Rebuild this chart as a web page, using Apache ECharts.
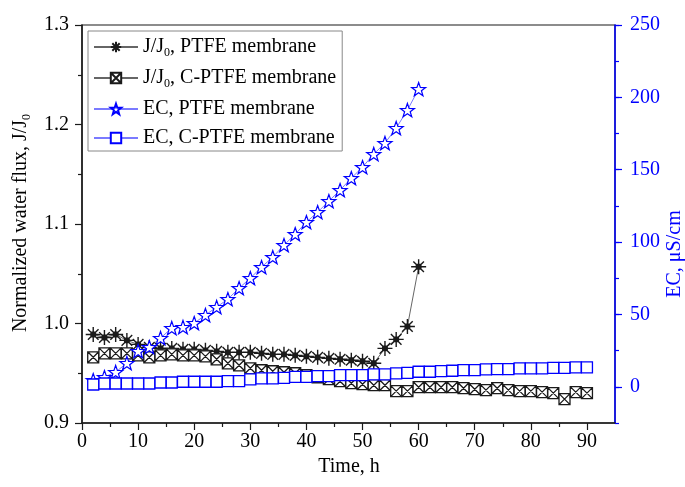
<!DOCTYPE html>
<html><head><meta charset="utf-8">
<script src="https://cdn.jsdelivr.net/npm/echarts@6/dist/echarts.min.js"></script>
<style>html,body{margin:0;padding:0;background:#fff}#c{width:685px;height:487px}</style>
</head><body><div id="c"></div>
<script>
// ---- data ----
const hoursPTFE = [2,4,6,8,10,12,14,16,18,20,22,24,26,28,30,32,34,36,38,40,42,44,46,48,50,52,54,56,58,60];
const hoursCPTFE = [2,4,6,8,10,12,14,16,18,20,22,24,26,28,30,32,34,36,38,40,42,44,46,48,50,52,54,56,58,60,62,64,66,68,70,72,74,76,78,80,82,84,86,88,90];
const fluxPTFE = [0.989,0.986,0.989,0.983,0.979,0.976,0.975,0.975,0.974,0.974,0.973,0.972,0.971,0.971,0.971,0.970,0.969,0.969,0.968,0.967,0.966,0.965,0.964,0.963,0.962,0.960,0.975,0.984,0.997,1.057];
const fluxCPTFE = [0.966,0.970,0.970,0.970,0.968,0.966,0.968,0.969,0.968,0.968,0.967,0.964,0.960,0.958,0.955,0.953,0.952,0.951,0.950,0.948,0.946,0.944,0.942,0.940,0.939,0.938,0.938,0.932,0.932,0.936,0.936,0.936,0.936,0.935,0.934,0.933,0.935,0.933,0.932,0.932,0.931,0.930,0.924,0.931,0.930];
const ecPTFE = [4.6,6.7,10.2,16.4,24.7,27.4,33.7,40.6,41.3,44.0,49.6,55.1,60.6,68.2,75.1,82.7,89.6,97.9,105.5,113.8,120.7,128.3,135.9,144.2,151.8,160.8,168.4,178.8,191.2,205.7];
const ecCPTFE = [1.6,2.3,2.3,2.3,2.3,2.3,3.0,3.0,3.5,3.5,3.5,3.5,3.9,3.9,5.1,5.8,5.8,6.2,6.9,6.9,7.4,7.4,8.1,8.1,8.1,8.6,8.6,9.3,9.7,10.4,10.4,10.9,11.1,11.5,11.5,12.0,12.2,12.2,12.7,12.7,12.7,13.1,13.1,13.4,13.4];
const seriesNames = ['J/J0, PTFE membrane','J/J0, C-PTFE membrane','EC, PTFE membrane','EC, C-PTFE membrane'];
const xLabel = 'Time, h';
const yLeftLabel = 'Normalized water flux, J/J';
const yRightLabel = 'EC, \u03bcS/cm';

// ---- styling ----
const FONT = "'Liberation Serif','Times New Roman',serif";
const BLK = '#1a1a1a';
const BLUE = '#0000ff';
const pair = (xs, ys) => xs.map((x, i) => [x, ys[i]]);
const ASTER = 'path://M0,-10L0,10M-10,0L10,0M-7.07,-7.07L7.07,7.07M-7.07,7.07L7.07,-7.07M-3,-3L3,-3L3,3L-3,3Z';
const BOXX = 'path://M-5,-5L5,-5L5,5L-5,5ZM-5,-5L5,5M5,-5L-5,5';
const STAR = 'path://M0,-10L2.35,-3.24L9.51,-3.09L3.80,1.24L5.88,8.09L0,4L-5.88,8.09L-3.80,1.24L-9.51,-3.09L-2.35,-3.24Z';
const rich = {
  t: {fontFamily: FONT, fontSize: 20, lineHeight: 24, color: '#000'},
  s: {fontFamily: FONT, fontSize: 12, lineHeight: 6, verticalAlign: 'bottom', color: '#000'}
};
const G = {left: 82, right: 70, top: 25, bottom: 64};
const plotW = 685 - G.left - G.right;
const plotH = 487 - G.top - G.bottom;
const rightMin = -25, rightMax = 250;
const zeroFromBottom = G.bottom + (0 - rightMin) / (rightMax - rightMin) * plotH;

const chart = echarts.init(document.getElementById('c'), null, {renderer: 'canvas'});
const tickStyle = c => ({color: c, width: 1.2});
chart.setOption({
  animation: false,
  backgroundColor: '#fff',
  grid: [
    {left: G.left, right: G.right, top: G.top, bottom: G.bottom, show: true, borderColor: BLK, borderWidth: 1.2, backgroundColor: 'transparent'},
    {left: G.left, width: plotW * 90 / 95, top: G.top, bottom: G.bottom},
    {left: G.left, right: G.right, top: G.top, bottom: zeroFromBottom}
  ],
  legend: {
    orient: 'vertical', left: 88, top: 31,
    data: seriesNames,
    itemWidth: 44, itemHeight: 13, itemGap: 9,
    padding: [6, 6, 3, 5],
    borderColor: '#888', borderWidth: 1, backgroundColor: '#fff',
    selectedMode: false,
    formatter: n => n.startsWith('J/J0') ? '{t|J/J}{s|0}{t|' + n.slice(4) + '}' : '{t|' + n + '}',
    textStyle: {fontFamily: FONT, fontSize: 20, color: '#000', rich: rich}
  },
  xAxis: [
    {gridIndex: 0, type: 'value', min: 0, max: 95,
      axisLine: {show: true, onZero: false, lineStyle: {color: BLK, width: 1.5}},
      axisTick: {show: false}, axisLabel: {show: false}, splitLine: {show: false}},
    {gridIndex: 1, type: 'value', min: 0, max: 90, interval: 10,
      axisLine: {show: false, onZero: false},
      axisTick: {show: true, inside: false, length: 7, lineStyle: tickStyle(BLK)},
      minorTick: {show: true, splitNumber: 2, length: 4, lineStyle: tickStyle(BLK)},
      axisLabel: {margin: 9, fontFamily: FONT, fontSize: 20, color: '#000'},
      splitLine: {show: false}, minorSplitLine: {show: false}},
    {gridIndex: 2, type: 'value', min: 0, max: 1, show: false}
  ],
  yAxis: [
    {gridIndex: 0, type: 'value', position: 'left', min: 0.9, max: 1.3, interval: 0.1,
      axisLine: {show: true, onZero: false, lineStyle: {color: BLK, width: 1.5}},
      axisTick: {show: true, inside: false, length: 7, lineStyle: tickStyle(BLK)},
      minorTick: {show: true, splitNumber: 2, length: 4, lineStyle: tickStyle(BLK)},
      axisLabel: {margin: 13, fontFamily: FONT, fontSize: 20, color: '#000', formatter: v => v.toFixed(1)},
      splitLine: {show: false}},
    {gridIndex: 0, type: 'value', position: 'right', min: rightMin, max: rightMax, interval: 25,
      axisLine: {show: true, onZero: false, lineStyle: {color: BLUE, width: 1.5}},
      axisTick: {show: true, inside: false, length: 4, lineStyle: tickStyle(BLUE)},
      axisLabel: {show: false}, splitLine: {show: false}},
    {gridIndex: 1, type: 'value', min: 0, max: 1, show: false},
    {gridIndex: 2, type: 'value', position: 'right', min: 0, max: rightMax, interval: 50,
      axisLine: {show: false, onZero: false},
      axisTick: {show: true, inside: false, length: 7, lineStyle: tickStyle(BLUE)},
      axisLabel: {margin: 15, fontFamily: FONT, fontSize: 20, color: BLUE},
      splitLine: {show: false}}
  ],
  graphic: [
    {type: 'text', x: 21, y: 223, rotation: Math.PI / 2, silent: true,
      style: {text: '{t|' + yLeftLabel + '}{s|0}', rich: rich, align: 'center', verticalAlign: 'middle'}},
    {type: 'text', x: 349, y: 467, silent: true,
      style: {text: xLabel, fontFamily: FONT, fontSize: 20, fill: '#000', align: 'center', verticalAlign: 'middle'}},
    {type: 'text', x: 675, y: 254, rotation: Math.PI / 2, silent: true,
      style: {text: yRightLabel, fontFamily: FONT, fontSize: 20, fill: BLUE, align: 'center', verticalAlign: 'middle'}}
  ],
  series: [
    {name: seriesNames[0], type: 'line', xAxisIndex: 0, yAxisIndex: 0, data: pair(hoursPTFE, fluxPTFE),
      symbol: ASTER, symbolSize: 15, symbolKeepAspect: true,
      lineStyle: {color: '#666', width: 1}, itemStyle: {color: '#fff', borderColor: BLK, borderWidth: 1.4}, emphasis: {disabled: true}},
    {name: seriesNames[1], type: 'line', xAxisIndex: 0, yAxisIndex: 0, data: pair(hoursCPTFE, fluxCPTFE),
      symbol: BOXX, symbolSize: 11, symbolKeepAspect: true,
      lineStyle: {color: '#666', width: 1}, itemStyle: {color: '#fff', borderColor: BLK, borderWidth: 1.3}, emphasis: {disabled: true}},
    {name: seriesNames[2], type: 'line', xAxisIndex: 0, yAxisIndex: 1, data: pair(hoursPTFE, ecPTFE),
      symbol: STAR, symbolSize: 14, symbolKeepAspect: true,
      lineStyle: {color: '#7a7aff', width: 1}, itemStyle: {color: '#fff', borderColor: BLUE, borderWidth: 1.2}, emphasis: {disabled: true}},
    {name: seriesNames[3], type: 'line', xAxisIndex: 0, yAxisIndex: 1, data: pair(hoursCPTFE, ecCPTFE),
      symbol: 'rect', symbolSize: 11,
      lineStyle: {color: '#7a7aff', width: 1}, itemStyle: {color: '#fff', borderColor: BLUE, borderWidth: 1.3}, emphasis: {disabled: true}}
  ]
});
</script></body></html>
